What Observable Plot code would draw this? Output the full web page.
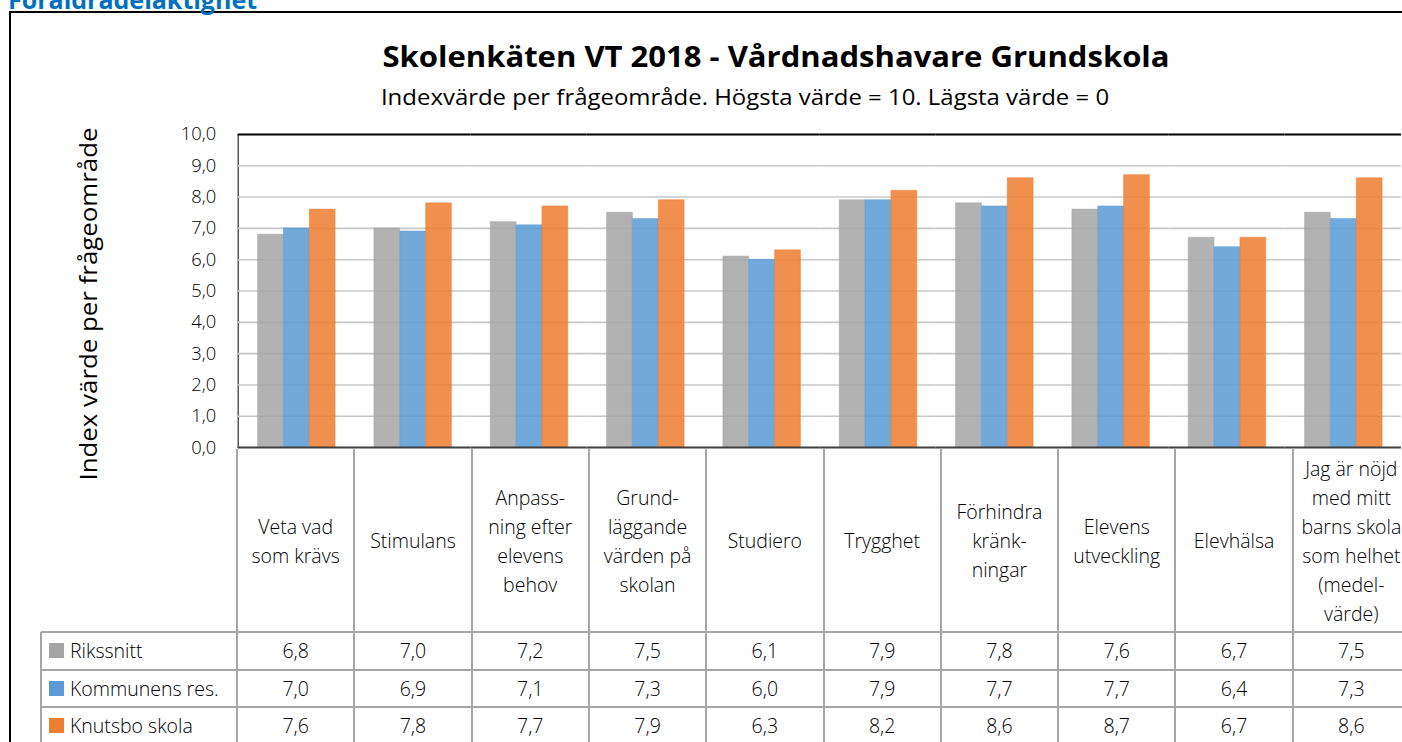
<!DOCTYPE html>
<html>
<head>
<meta charset="utf-8">
<script src="https://cdn.jsdelivr.net/npm/d3@7"></script>
<script src="https://cdn.jsdelivr.net/npm/@observablehq/plot@0.6"></script>
<style>
  body { margin: 0; background: #fff; }
  #page { position: relative; width: 1402px; height: 742px; overflow: hidden; font-family: "Open Sans", sans-serif; font-weight: 300; color: #000; }
  #frame { position: absolute; left: 9px; top: 11px; width: 1500px; height: 800px; border: 2px solid #000; box-sizing: border-box; }
  #toplabel { position: absolute; left: 8px; top: -18px; font: bold 25px "Open Sans", sans-serif; color: #0070c0; white-space: nowrap; }
  #title { position: absolute; left: 276px; width: 1000px; top: 36px; line-height: 40px; text-align: center; font-weight: bold; font-size: 29px; white-space: nowrap; transform: scaleX(1.07); }
  #subtitle { position: absolute; left: 245px; width: 1000px; top: 82px; line-height: 30px; text-align: center; font-size: 21px; font-weight: 400; white-space: nowrap; transform: scaleX(1.14); }
  #ylabel { position: absolute; left: 88px; top: 304px; transform: translate(-50%, -50%) rotate(-90deg) scaleX(1.1); font-size: 23.5px; font-weight: 400; white-space: nowrap; }
  #chart { position: absolute; left: 0; top: 120px; }
  .cell { position: absolute; box-sizing: border-box; display: flex; align-items: center; justify-content: center; text-align: center; font-size: 19.5px; white-space: pre-line; }
  .hdr { line-height: 29px; font-size: 19.5px; }
  .hline { position: absolute; height: 2px; background: #a6a6a6; }
  .vline { position: absolute; width: 2px; background: #a6a6a6; }
  .leg { position: absolute; display: flex; align-items: center; font-size: 19.5px; white-space: nowrap; }
  .sw { width: 15px; height: 15px; margin-right: 6px; }
</style>
</head>
<body>
<div id="page">
  <div id="frame"></div>
  <div id="toplabel">Föräldradelaktighet</div>
  <div id="title">Skolenkäten VT 2018 - Vårdnadshavare Grundskola</div>
  <div id="subtitle">Indexvärde per frågeområde. Högsta värde = 10. Lägsta värde = 0</div>
  <div id="ylabel">Index värde per frågeområde</div>
  <div id="chart"></div>
  <div id="table"></div>
</div>
<script>
// ---- data ----
const categories = ["Veta vad som krävs", "Stimulans", "Anpassning efter elevens behov", "Grundläggande värden på skolan", "Studiero", "Trygghet", "Förhindra kränkningar", "Elevens utveckling", "Elevhälsa", "Jag är nöjd med mitt barns skola som helhet (medelvärde)"];
const categoryLabels = ["Veta vad\nsom krävs", "Stimulans", "Anpass-\nning efter\nelevens\nbehov", "Grund-\nläggande\nvärden på\nskolan", "Studiero", "Trygghet", "Förhindra\nkränk-\nningar", "Elevens\nutveckling", "Elevhälsa", "Jag är nöjd\nmed mitt\nbarns skola\nsom helhet\n(medel-\nvärde)"];
const seriesNames = ["Rikssnitt", "Kommunens res.", "Knutsbo skola"];
const rikssnitt = [6.8, 7.0, 7.2, 7.5, 6.1, 7.9, 7.8, 7.6, 6.7, 7.5];
const kommunen = [7.0, 6.9, 7.1, 7.3, 6.0, 7.9, 7.7, 7.7, 6.4, 7.3];
const knutsbo = [7.6, 7.8, 7.7, 7.9, 6.3, 8.2, 8.6, 8.7, 6.7, 8.6];
const yTicks = [0, 1, 2, 3, 4, 5, 6, 7, 8, 9, 10];
const seriesColors = ["#a5a5a5", "#5b9bd5", "#ed7d31"];

const seriesValues = [rikssnitt, kommunen, knutsbo];
const data = categories.flatMap((c, i) => seriesNames.map((s, j) => ({cat: c, series: s, value: seriesValues[j][i]})));
const fmt = d => d.toFixed(1).replace(".", ",");

// ---- chart ----
const W = 1410, H = 339, mL = 237, mR = 0, mT = 14, mB = 10;
const chart = Plot.plot({
  width: W, height: H,
  marginLeft: mL, marginRight: mR, marginTop: mT, marginBottom: mB,
  style: {fontFamily: "'Open Sans', sans-serif", fontWeight: 300, fontSize: "18.5px", color: "#000", overflow: "visible", background: "transparent"},
  facet: {data, x: "cat", label: null},
  fx: {domain: categories, padding: 0, axis: null},
  x: {domain: seriesNames, paddingInner: 0, paddingOuter: 0.73, axis: null},
  y: {domain: [0, 10], ticks: yTicks, tickFormat: fmt, tickSize: 0, tickPadding: 22, label: null, line: true},
  color: {domain: seriesNames, range: seriesColors},
  marks: [
    Plot.ruleY(yTicks.slice(1, -1), {stroke: "#c8c8c8", strokeWidth: 1.6}),
    Plot.barY(data, {x: "series", y: "value", fill: "series", fillOpacity: 0.86, stroke: "series", strokeOpacity: 0.45, strokeWidth: 1}),
    Plot.ruleY([10], {stroke: "#000", strokeWidth: 2}),
    Plot.ruleY([0], {stroke: "#404040", strokeWidth: 2})
  ]
});
document.getElementById("chart").appendChild(chart);

// ---- data table, aligned with the chart's category scale ----
const fx = d3.scaleBand().domain(categories).range([mL, W - mR]).padding(0);
const y = d3.scaleLinear().domain([0, 10]).range([H - mB, mT]);
const top0 = 120 + y(0);          // table top = x axis baseline
const headerH = 183, rowH = 37.5;
const legLeft = 41;
const tbl = document.getElementById("table");
const add = (cls, css, text) => { const d = document.createElement("div"); d.className = cls; Object.assign(d.style, css); if (text != null) d.textContent = text; tbl.appendChild(d); return d; };
const bottom = 760;
categories.forEach((c, i) => {
  add("cell hdr", {left: fx(c) + "px", width: fx.bandwidth() + "px", top: top0 + "px", height: headerH + "px"}, categoryLabels[i]);
});
seriesNames.forEach((s, j) => {
  const rt = top0 + headerH + j * rowH;
  categories.forEach((c, i) => {
    add("cell", {left: fx(c) + "px", width: fx.bandwidth() + "px", top: rt + "px", height: rowH + "px"}, fmt(seriesValues[j][i]));
  });
  const l = add("leg", {left: (legLeft + 8) + "px", top: rt + "px", height: rowH + "px"});
  const sw = document.createElement("div"); sw.className = "sw"; sw.style.background = seriesColors[j]; l.appendChild(sw);
  l.appendChild(document.createTextNode(s));
});
categories.forEach(c => add("vline", {left: (fx(c) - 1) + "px", top: top0 + "px", height: (bottom - top0) + "px"}));
add("vline", {left: (fx(categories.at(-1)) + fx.bandwidth() - 1) + "px", top: top0 + "px", height: (bottom - top0) + "px"});
add("vline", {left: (legLeft - 1) + "px", top: (top0 + headerH) + "px", height: (bottom - top0 - headerH) + "px"});
seriesNames.forEach((s, j) => add("hline", {left: legLeft + "px", width: (W - legLeft) + "px", top: (top0 + headerH + j * rowH - 1) + "px"}));
</script>
</body>
</html>
